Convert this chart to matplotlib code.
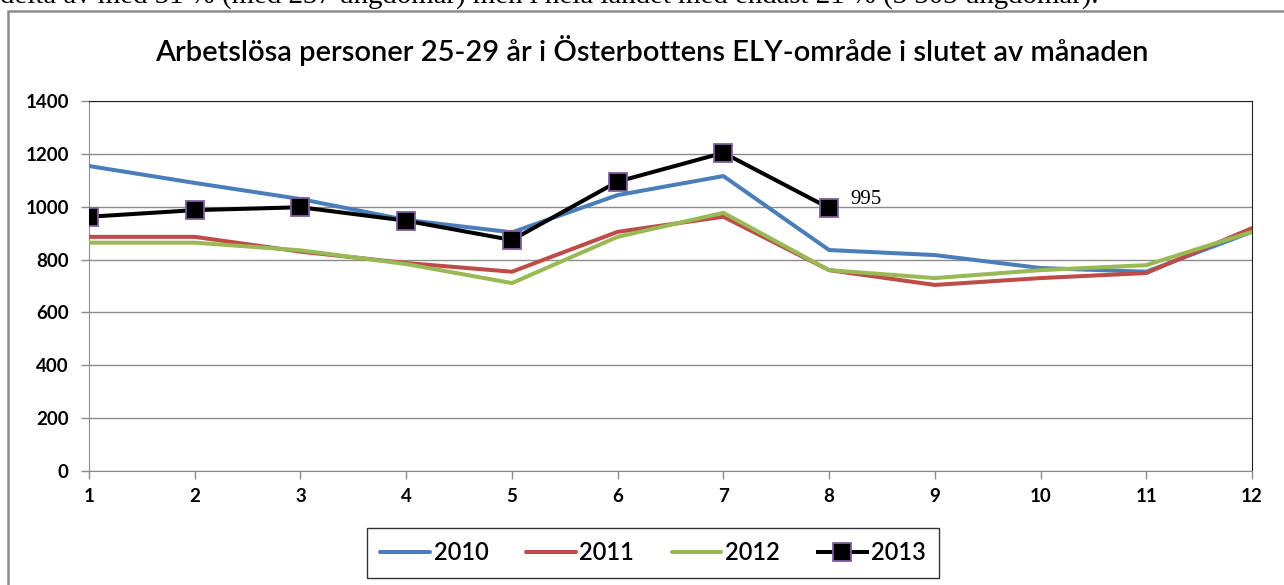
import numpy as np
import matplotlib.pyplot as plt
from matplotlib.patches import Rectangle

# data
months = list(range(1, 13))
v2010 = [1154, 1090, 1029, 950, 903, 1044, 1116, 836, 817, 768, 754, 905]
v2011 = [886, 886, 830, 787, 754, 905, 962, 760, 704, 730, 749, 919]
v2012 = [864, 864, 835, 783, 711, 886, 977, 760, 730, 760, 779, 905]
months2013 = [1, 2, 3, 4, 5, 6, 7, 8]
v2013 = [962, 987, 998, 947, 874, 1095, 1204, 995]

titel = "Arbetslösa personer 25-29 år i Österbottens ELY-område i slutet av månaden"
brodtext = "delta av med 31 % (med 237 ungdomar) men i hela landet med endast 21 % (3 303 ungdomar)."

W, H = 1284, 585
fig = plt.figure(figsize=(W / 100, H / 100), dpi=100)

# body text line, cut off at the top as in the screenshot
fig.text(0.0, 1 - 2.5 / H, brodtext, family="Liberation Serif", fontsize=20.8,
         ha="left", va="baseline", color="black")

# chart frame
fig.patches.append(Rectangle((8 / W, -0.01), 1.0, (H - 11) / H + 0.01, transform=fig.transFigure,
                             fill=False, edgecolor="#8c8c8c", linewidth=1.8))

fig.text(652 / W, 1 - 50 / H, titel, family="Lato", fontsize=21, fontweight="semibold",
         ha="center", va="center", color="black")

ax = fig.add_axes([89 / W, (H - 471) / H, (1252 - 89) / W, (471 - 101) / H])

l1, = ax.plot(months, v2010, color="#4a7ebb", lw=2.9, solid_capstyle="round", zorder=3)
l2, = ax.plot(months, v2011, color="#be4b48", lw=2.9, solid_capstyle="round", zorder=3)
l3, = ax.plot(months, v2012, color="#98b954", lw=2.9, solid_capstyle="round", zorder=4)
l4, = ax.plot(months2013, v2013, color="black", lw=2.9, marker="s", markersize=12.5,
              markerfacecolor="black", markeredgecolor="#7f5f9f", markeredgewidth=1.3, zorder=5)

ax.annotate(str(v2013[-1]), (months2013[-1], v2013[-1]), xytext=(15, 6),
            textcoords="offset points", family="Liberation Serif", fontsize=15,
            ha="left", va="center")

ax.set_xlim(1, 12)
ax.set_ylim(0, 1400)
ax.set_xticks(months)
ax.set_yticks(np.arange(0, 1401, 200))
ax.yaxis.grid(True, color="#8c8c8c", lw=1.0)
ax.set_axisbelow(True)

for lab in ax.get_xticklabels() + ax.get_yticklabels():
    lab.set_fontweight("bold")
    lab.set_family("Lato")
    lab.set_fontsize(13.5)
ax.tick_params(axis="both", colors="#8c8c8c", length=6, width=1.0, labelcolor="black")
ax.tick_params(axis="y", pad=8.5)
ax.tick_params(axis="x", pad=6)

ax.spines["left"].set_color("#8c8c8c")
ax.spines["bottom"].set_color("#8c8c8c")
ax.spines["top"].set_color("#222222")
ax.spines["right"].set_color("#222222")

leg = fig.legend([l1, l2, l3, l4], ["2010", "2011", "2012", "2013"], loc="center",
                 bbox_to_anchor=(653 / W, 1 - 553 / H), ncol=4, frameon=True,
                 fancybox=False, edgecolor="black", handlelength=2.1, handletextpad=0.15,
                 columnspacing=1.6, borderpad=0.5, borderaxespad=0.0,
                 prop={"family": "Lato", "size": 17, "weight": "semibold"})
leg.get_frame().set_linewidth(1.0)
leg._legend_box.pad = 10  # bit of extra room left/right inside the frame

fig.savefig("out.png", dpi=100)
